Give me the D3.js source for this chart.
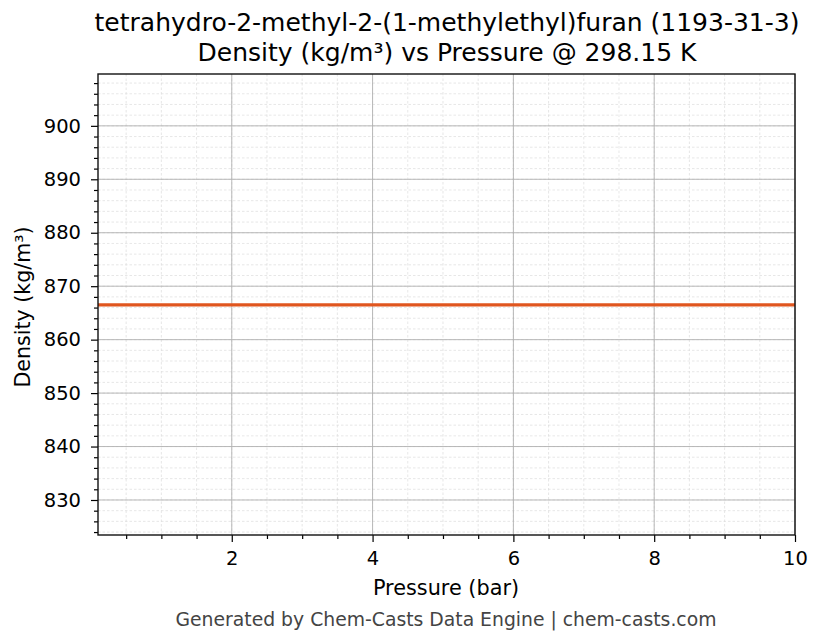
<!DOCTYPE html>
<html><head><meta charset="utf-8">
<script src="https://cdn.jsdelivr.net/npm/d3@7"></script>
<style>body{margin:0;background:#fff}svg{display:block}text{font-family:"DejaVu Sans",sans-serif}</style>
</head><body><svg id="c" width="823" height="644"></svg>
<script>
const pressure = [0.1, 1, 2, 3, 4, 5, 6, 7, 8, 9, 10];
const density = [866.5, 866.5, 866.5, 866.5, 866.5, 866.5, 866.5, 866.5, 866.5, 866.5, 866.5];
const xTicks = [2, 4, 6, 8, 10];
const yTicks = [830, 840, 850, 860, 870, 880, 890, 900];
const titleLines = ["tetrahydro-2-methyl-2-(1-methylethyl)furan (1193-31-3)", "Density (kg/m³) vs Pressure @ 298.15 K"];

const svg = d3.select("#c");
const L = 98, R = 795, T = 74, B = 535;
const x = d3.scaleLinear().domain([0.1, 10]).range([L, R]);
const y = d3.scaleLinear().domain([823.45, 909.7]).range([B, T]);

const xMinor = d3.range(0.5, 10.01, 0.5);
const yMinor = d3.range(824, 909.7, 2);

svg.append("g").selectAll("line").data(xMinor).join("line")
  .attr("x1", d => x(d)).attr("x2", d => x(d)).attr("y1", T).attr("y2", B)
  .attr("stroke", "#dddddd").attr("stroke-width", 0.7).attr("stroke-dasharray", "2.5,2");
svg.append("g").selectAll("line").data(yMinor).join("line")
  .attr("y1", d => y(d)).attr("y2", d => y(d)).attr("x1", L).attr("x2", R)
  .attr("stroke", "#dddddd").attr("stroke-width", 0.7).attr("stroke-dasharray", "2.5,2");
svg.append("g").selectAll("line").data(xTicks).join("line")
  .attr("x1", d => x(d)).attr("x2", d => x(d)).attr("y1", T).attr("y2", B)
  .attr("stroke", "#b0b0b0").attr("stroke-width", 0.9);
svg.append("g").selectAll("line").data(yTicks).join("line")
  .attr("y1", d => y(d)).attr("y2", d => y(d)).attr("x1", L).attr("x2", R)
  .attr("stroke", "#b0b0b0").attr("stroke-width", 0.9);

svg.append("path").datum(pressure.map((p, i) => [p, density[i]]))
  .attr("fill", "none").attr("stroke", "#e0561f").attr("stroke-width", 3.2)
  .attr("d", d3.line().x(d => x(d[0])).y(d => y(d[1])));

const FS = 19.5;
const xa = svg.append("g").attr("transform", `translate(0,${B})`)
  .call(d3.axisBottom(x).tickValues(xTicks).tickFormat(d3.format("d")).tickSize(7).tickPadding(9.5));
const xm = svg.append("g").attr("transform", `translate(0,${B})`)
  .call(d3.axisBottom(x).tickValues(xMinor.filter(v => !xTicks.includes(v))).tickFormat("").tickSize(4));
const ya = svg.append("g").attr("transform", `translate(${L},0)`)
  .call(d3.axisLeft(y).tickValues(yTicks).tickFormat(d3.format("d")).tickSize(7).tickPadding(10));
const ym = svg.append("g").attr("transform", `translate(${L},0)`)
  .call(d3.axisLeft(y).tickValues(yMinor.filter(v => !yTicks.includes(v))).tickFormat("").tickSize(4));
[xa, xm, ya, ym].forEach(g => {
  g.select(".domain").remove();
  g.attr("font-size", null).attr("font-family", null);
  g.selectAll("line").attr("stroke", "#000").attr("stroke-width", 1.2);
  g.selectAll("text").style("font-size", FS + "px").attr("fill", "#000");
});
svg.append("rect").attr("x", L).attr("y", T).attr("width", R - L).attr("height", B - T)
  .attr("fill", "none").attr("stroke", "#111").attr("stroke-width", 1.4);

svg.append("text").attr("x", (L + R) / 2 - 0.5).attr("y", 595).attr("text-anchor", "middle")
  .style("font-size", "20.8px").text("Pressure (bar)");
svg.append("text").attr("transform", `translate(30,307) rotate(-90)`).attr("text-anchor", "middle")
  .style("font-size", "20.6px").text("Density (kg/m³)");
titleLines.forEach((t, i) => svg.append("text").attr("x", 447).attr("y", 31 + i * 30.3)
  .attr("text-anchor", "middle").style("font-size", "25px").text(t));
svg.append("text").attr("x", 446).attr("y", 625.5).attr("text-anchor", "middle")
  .style("font-size", "18.8px").attr("fill", "#444").text("Generated by Chem-Casts Data Engine | chem-casts.com");
</script></body></html>
